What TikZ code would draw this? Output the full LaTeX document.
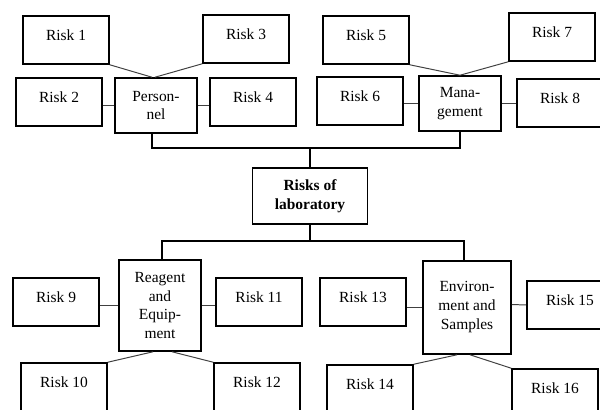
\documentclass[tikz,border=0pt]{standalone}
\usepackage{fontspec}
\setmainfont{Liberation Serif}
\usepackage{tikz}
\usetikzlibrary{calc}
\tikzset{
  bx/.style={draw, line width=1.1pt, align=center, inner sep=0pt, font=\fontsize{11}{13.5}\selectfont},
  risk/.style={bx, minimum width=2.15cm, minimum height=1.2cm, text depth=7pt},
  grp/.style={bx, minimum width=2.05cm},
  tree/.style={line width=1.1pt},
  lnk/.style={line width=0.7pt, color=black!75},
}

\begin{document}
\begin{tikzpicture}[x=0.025cm, y=-0.025cm]
    \useasboundingbox (0,0) rectangle (600,409);
    \clip (0,0) rectangle (600,409);
    % centre
    \node[bx, minimum width=2.875cm, minimum height=1.4cm, font=\fontsize{11}{13.5}\selectfont\bfseries] (lab) at (310,196) {Risks of\\laboratory};
    % groups
    \node[grp, minimum height=1.375cm] (pers) at (156,105.5) {Person-\\nel};
    \node[grp, minimum height=1.375cm] (mgmt) at (460,103.5) {Mana-\\gement};
    \node[grp, minimum height=2.275cm] (reag) at (160,305.5) {Reagent\\and\\Equip-\\ment};
    \node[grp, minimum width=2.2cm, minimum height=2.325cm] (env) at (467,307.5) {Environ-\\ment and\\Samples};
    % risks
    \node[risk] (r1) at (66,40) {Risk 1};
    \node[risk] (r2) at (59,102) {Risk 2};
    \node[risk] (r3) at (246,39) {Risk 3};
    \node[risk] (r4) at (253,102) {Risk 4};
    \node[risk] (r5) at (366,40) {Risk 5};
    \node[risk] (r6) at (360,101) {Risk 6};
    \node[risk] (r7) at (552,37) {Risk 7};
    \node[risk] (r8) at (560,103) {Risk 8};
    \node[risk] (r9) at (56,302) {Risk 9};
    \node[risk] (r10) at (64,387) {Risk 10};
    \node[risk] (r11) at (259,302) {Risk 11};
    \node[risk] (r12) at (257,387) {Risk 12};
    \node[risk] (r13) at (363,302) {Risk 13};
    \node[risk] (r14) at (370,389) {Risk 14};
    \node[risk] (r15) at (570,305) {Risk 15};
    \node[risk] (r16) at (555,393) {Risk 16};
    % tree
    \coordinate (upbar) at (310,148);
    \coordinate (lowbar) at (310,241);
    \draw[tree] ($(pers.south)+(-4,0)$) |- (upbar) -| (mgmt.south);
    \draw[tree] (upbar) -- (lab.north);
    \draw[tree] (lab.south) -- (lowbar);
    \draw[tree] ($(reag.north)+(2,0)$) |- (lowbar) -| ($(env.north)+(-3,0)$);
    % links
    \draw[lnk] (r1.south east) -- ($(pers.north)+(-4,0)$);
    \draw[lnk] (r3.south west) -- ($(pers.north)+(-1,0)$);
    \draw[lnk] (pers.west) -- (r2.east |- pers.west);
    \draw[lnk] (pers.east) -- (r4.west |- pers.west);
    \draw[lnk] (r5.south east) -- (mgmt.north);
    \draw[lnk] (r7.south west) -- (mgmt.north);
    \draw[lnk] (mgmt.west) -- (r6.east |- mgmt.west);
    \draw[lnk] (mgmt.east) -- (r8.west |- mgmt.east);
    \draw[lnk] (reag.west) -- (r9.east |- reag.west);
    \draw[lnk] (reag.east) -- (r11.west |- reag.east);
    \draw[lnk] ($(reag.south)+(-7,0)$) -- (r10.north east);
    \draw[lnk] ($(reag.south)+(12,0)$) -- (r12.north west);
    \draw[lnk] (env.west) -- (r13.east |- env.west);
    \draw[lnk] ($(env.east)+(0,-3)$) -- (r15.west |- r15.west);
    \draw[lnk] ($(env.south)+(-10,0)$) -- (r14.north east);
    \draw[lnk] ($(env.south)+(3,0)$) -- (r16.north west);
\end{tikzpicture}
\end{document}
